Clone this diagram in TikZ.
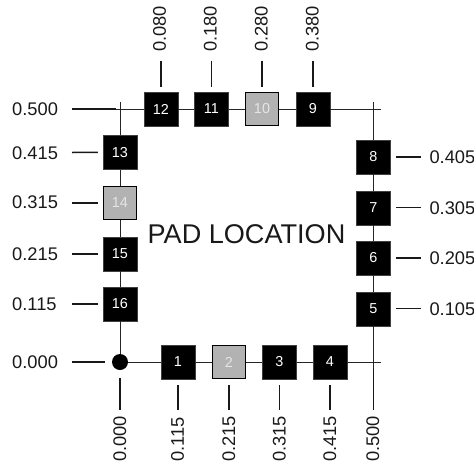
\documentclass[tikz,border=0pt]{standalone}
\usepackage{fontspec}
\setmainfont{Liberation Sans}
\tikzset{
  x=1pt,y=-1pt,
  padbase/.style={minimum size=34pt,inner sep=0pt,font=\fontsize{14.4}{14.4}\selectfont,text=white},
  blackpad/.style={padbase,fill=black,draw=black!75,line width=0.4pt},
  greypad/.style={padbase,fill=black!30,draw=black,line width=1.3pt,minimum size=33pt,text=white!90!black},
  wire/.style={line width=0.9pt,draw=black!85},
  tick/.style={line width=1.5pt,draw=black!90},
  val/.style={inner sep=0pt,font=\fontsize{18.3}{18.3}\selectfont,text=black!90},
  valr/.style={val,rotate=90},
  title/.style={inner sep=0pt,font=\fontsize{27.1}{27.1}\selectfont,text=black!90},
}
\begin{document}
\begin{tikzpicture}
\useasboundingbox (0,0) rectangle (474,464);
% pads
\node[blackpad] (p1) at (178,362) {1};
\node[greypad]  (p2) at (229,362) {2};
\node[blackpad] (p3) at (279.3,362) {3};
\node[blackpad] (p4) at (330,362) {4};
\node[blackpad] (p5) at (373.3,308.7) {5};
\node[blackpad] (p6) at (373.3,258) {6};
\node[blackpad] (p7) at (373.3,207.7) {7};
\node[blackpad] (p8) at (373.3,157) {8};
\node[blackpad] (p9) at (313,109) {9};
\node[greypad]  (p10) at (262,109) {10};
\node[blackpad] (p11) at (211.3,109) {11};
\node[blackpad] (p12) at (161,109) {12};
\node[blackpad] (p13) at (120,152.3) {13};
\node[greypad]  (p14) at (120,203) {14};
\node[blackpad] (p15) at (120,254) {15};
\node[blackpad] (p16) at (120,304) {16};
\node[circle,fill=black,inner sep=0pt,minimum size=16pt] (org) at (120,362) {};
% free ends of the frame
\coordinate (tl) at (120,101.7);
\coordinate (tle) at (116,109);
\coordinate (tr) at (373.3,101.7);
\coordinate (tre) at (381,109);
\coordinate (br) at (381,362);
\coordinate (brv) at (373.3,369);
% frame
\draw[wire] (tle) -- (p12) (p12) -- (p11) (p11) -- (p10) (p10) -- (p9) (p9) -- (tre);
\draw[wire] (tl) -- (p13) (p13) -- (p14) (p14) -- (p15) (p15) -- (p16) (p16) -- (org);
\draw[wire] (org) -- (p1) (p1) -- (p2) (p2) -- (p3) (p3) -- (p4) (p4) -- (br);
\draw[wire] (tr) -- (p8) (p8) -- (p7) (p7) -- (p6) (p6) -- (p5) (p5) -- (brv);
% left labels
\foreach \n/\t/\y in {l0/0.500/109,l13/0.415/152.5,l14/0.315/202,l15/0.215/254,l16/0.115/304,lo/0.000/362}
  \node[val,anchor=west,text height=13pt,text depth=0pt] (\n) at (12,\y) {\t};
\draw[tick] (72,109) -- (tle);
\draw[tick] (72,152.5) -- ([xshift=-5pt]p13.west);
\draw[tick] (72,203) -- ([xshift=-5pt]p14.west);
\draw[tick] (72,254) -- ([xshift=-5pt]p15.west);
\draw[tick] (72,304) -- ([xshift=-5pt]p16.west);
\draw[tick] (72,362) -- ([xshift=-7pt]org.west);
% right labels
\foreach \n/\t/\y in {r8/0.405/157,r7/0.305/207.7,r6/0.205/258,r5/0.105/308.7}
  \node[val,anchor=west,text height=13pt,text depth=0pt] (\n) at (429.3,\y) {\t};
\foreach \a/\b in {r8/p8,r7/p7,r6/p6,r5/p5}
  \draw[tick] ([xshift=5.5pt]\b.east) -- ([xshift=-8pt]\a.west);
% top labels
\foreach \n/\t/\x in {t12/0.080/159.3,t11/0.180/210,t10/0.280/261,t9/0.380/312}
  \node[valr,anchor=west,text height=13pt,text depth=0pt] (\n) at (\x,52) {\t};
\draw[tick] (p12.north |- 0,60.7) -- ([yshift=5pt]p12.north);
\draw[tick] (p11.north |- 0,60.7) -- ([yshift=5pt]p11.north);
\draw[tick] (p10.north |- 0,60.7) -- ([yshift=5pt]p10.north);
\draw[tick] (p9.north |- 0,60.7) -- ([yshift=5pt]p9.north);
% bottom labels
\foreach \n/\t/\x in {bo/0.000/119.5,b1/0.115/177.3,b2/0.215/228.5,b3/0.315/279,b4/0.415/329.5,b5/0.500/372.5}
  \node[valr,anchor=west,text height=13pt,text depth=0pt] (\n) at (\x,462) {\t};
\draw[tick] ([yshift=-8pt]org.south) -- (org.south |- 0,410);
\foreach \b in {p1,p2,p3,p4}
  \draw[tick] ([yshift=-6pt]\b.south) -- (\b.south |- 0,410);
\draw[tick] (brv) -- (brv |- 0,410);
% title
\node[title] (ttl) at (246.5,234.5) {PAD LOCATION};
\end{tikzpicture}
\end{document}
